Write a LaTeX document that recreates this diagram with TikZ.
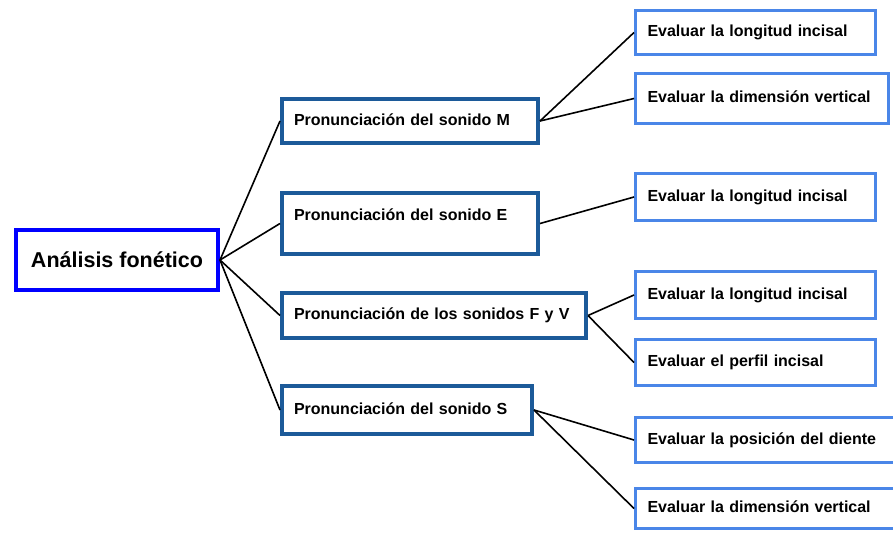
\documentclass[tikz,border=0pt]{standalone}
\usepackage{fontspec}
\setmainfont{Liberation Sans}
\definecolor{rootblue}{HTML}{0000FF}
\definecolor{topicblue}{HTML}{1C5A99}
\definecolor{taskblue}{HTML}{4A86E8}
\begin{document}
\begin{tikzpicture}
  [
  x=1pt,y=-1pt,
  root/.style={rectangle,draw=rootblue,line width=4pt,inner sep=0pt,minimum width=202pt,minimum height=60pt,font=\fontsize{21.5}{26}\selectfont\bfseries},
  topic/.style={rectangle,draw=topicblue,line width=4pt,inner xsep=12pt,inner ysep=0pt,align=left,text height=12pt,text depth=4pt,font=\fontsize{16}{19}\selectfont\bfseries},
  task/.style={rectangle,draw=taskblue,line width=3pt,inner xsep=12pt,inner ysep=0pt,align=left,text width=216pt,text height=12pt,text depth=4pt,font=\fontsize{16}{19}\selectfont\bfseries},
  link/.style={line width=1.6pt}
  ]
  \useasboundingbox (0,0) rectangle (893,533);

  \node (root) at (117,260) [root] {Análisis fonético};

  \node (m) at (410,121) [topic,text width=232pt,minimum height=44pt] {Pronunciación del sonido M};
  \node (e) at (410,223.5) [topic,text width=232pt,minimum height=61pt,text depth=17.5pt] {Pronunciación del sonido E};
  \node (fv) at (434,315.5) [topic,text width=280pt,minimum height=45pt] {Pronunciación de los sonidos F y V};
  \node (s) at (407,410) [topic,text width=226pt,minimum height=48pt] {Pronunciación del sonido S};

  \node (m1) at (755.5,32.5) [task,minimum height=44pt] {Evaluar la longitud incisal};
  \node (m2) at (762,98.5) [task,text width=229pt,minimum height=50pt] {Evaluar la dimensión vertical};
  \node (e1) at (755.5,197) [task,minimum height=47pt] {Evaluar la longitud incisal};
  \node (fv1) at (755.5,295) [task,minimum height=47pt] {Evaluar la longitud incisal};
  \node (fv2) at (755.5,362.5) [task,minimum height=46pt] {Evaluar el perfil incisal};
  \node (s1) at (765,440) [task,text width=235pt,minimum height=45pt] {Evaluar la posición del diente};
  \node (s2) at (765,508.5) [task,text width=235pt,minimum height=40pt] {Evaluar la dimensión vertical};

  \draw [link] (root.east) to (m.west);
  \draw [link] (root.east) to (e.west);
  \draw [link] (root.east) to (fv.west);
  \draw [link] (root.east) to (s.west);
  \draw [link] (m.east) to (m1.west);
  \draw [link] (m.east) to (m2.west);
  \draw [link] (e.east) to (e1.west);
  \draw [link] (fv.east) to (fv1.west);
  \draw [link] (fv.east) to (fv2.west);
  \draw [link] (s.east) to (s1.west);
  \draw [link] (s.east) to (s2.west);
\end{tikzpicture}
\end{document}
